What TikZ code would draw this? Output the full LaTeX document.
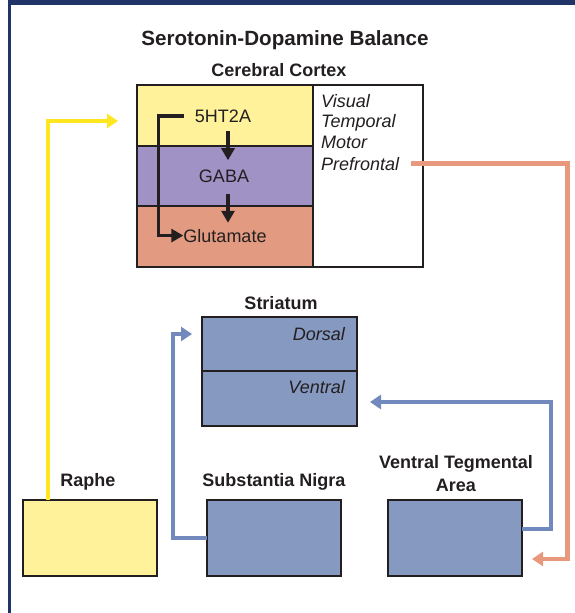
\documentclass[tikz,border=0pt]{standalone}
\usepackage{fontspec}
\setmainfont{Liberation Sans}
\usetikzlibrary{arrows.meta}
\definecolor{navy}{RGB}{33,52,104}
\definecolor{ink}{RGB}{35,31,32}
\definecolor{yfill}{RGB}{255,242,155}
\definecolor{pfill}{RGB}{160,146,196}
\definecolor{sfill}{RGB}{226,154,128}
\definecolor{bfill}{RGB}{134,153,193}
\definecolor{bline}{RGB}{114,137,190}
\definecolor{sline}{RGB}{232,152,124}
\definecolor{yline}{RGB}{255,230,30}
\begin{document}
\begin{tikzpicture}[x=1pt,y=-1pt,
  title/.style={font=\fontsize{20.6}{23}\selectfont\bfseries, text=ink, inner sep=0pt, anchor=base},
  lbl/.style={font=\fontsize{18}{21}\selectfont\bfseries, text=ink, inner sep=0pt, anchor=base},
  txt/.style={font=\fontsize{18}{21}\selectfont, text=ink, inner sep=0pt, anchor=base},
  itx/.style={font=\fontsize{18}{21}\selectfont\itshape, text=ink, inner sep=0pt},
  region/.style={draw=ink, line width=2.4pt, inner sep=0pt, outer sep=0pt, anchor=north west},
  blk/.style={draw=ink, line width=3.4pt, -{Triangle[width=13pt,length=12pt]}},
  conn/.style={line width=4.4pt, -{Triangle[width=14pt,length=11pt]}}
]
\useasboundingbox (0,0) rectangle (575,613);
% frame
\fill[navy] (8,0) rectangle (575,5);
\fill[navy] (8,0) rectangle (11,613);

% titles
\node[title] (ttl) at (285,45.5) {Serotonin-Dopamine Balance};
\node[lbl] (cc) at (279,76) {Cerebral Cortex};

% cortex
\node[region, fill=yfill, minimum width=176pt, minimum height=61pt] (yel) at (137,85) {};
\node[region, fill=pfill, minimum width=176pt, minimum height=60pt] (pur) at (137,146) {};
\node[region, fill=sfill, minimum width=176pt, minimum height=61pt] (sal) at (137,206) {};
\node[region, fill=white, minimum width=110pt, minimum height=182pt] (wht) at (313,85) {};

\node[txt] (h5) at (223,122) {5HT2A};
\node[txt] (gaba) at (224,182) {GABA};
\node[txt] (glu) at (225,242) {Glutamate};

\node[itx, anchor=base west] (vis) at (321,107) {Visual};
\node[itx, anchor=base west] (tem) at (321,127.5) {Temporal};
\node[itx, anchor=base west] (mot) at (321,148) {Motor};
\node[itx, anchor=base west] (pre) at (321,170) {Prefrontal};

\draw[blk, shorten <=9pt, shorten >=9pt] ([xshift=5pt]h5.south) -- ([xshift=5pt]h5.south |- gaba.north);
\draw[blk, shorten <=12pt, shorten >=6pt] ([xshift=4pt]gaba.south) -- ([xshift=4pt]gaba.south |- glu.north);
\draw[blk, shorten <=11pt] (h5.west) -- ++(-36,0) |- (glu.west);

% striatum
\node[lbl] (str) at (281,309) {Striatum};
\node[region, fill=bfill, minimum width=155pt, minimum height=54pt] (dor) at (202,317) {};
\node[region, fill=bfill, minimum width=155pt, minimum height=55pt] (ven) at (202,371) {};
\node[itx, anchor=base east] (dorl) at (345,340) {Dorsal};
\node[itx, anchor=base east] (venl) at (345,393) {Ventral};

% bottom boxes
\node[lbl] (rapl) at (88,486) {Raphe};
\node[region, fill=yfill, minimum width=134pt, minimum height=76pt] (raphe) at (23,500) {};
\node[lbl] (snl) at (274,486) {Substantia Nigra};
\node[region, fill=bfill, minimum width=134pt, minimum height=76pt] (sn) at (207,500) {};
\node[lbl] (vtal1) at (456,468) {Ventral Tegmental};
\node[lbl] (vtal2) at (456,491) {Area};
\node[region, fill=bfill, minimum width=134pt, minimum height=76pt] (vta) at (388,500) {};

% connector end points
\coordinate (yin) at (118,121);
\coordinate (sin) at (192,334);
\coordinate (vin) at (370,402);
\coordinate (sout) at (532,559);

\draw[conn, draw=yline, color=yline] ([xshift=25pt]raphe.north west) |- (yin);
\draw[conn, draw=bline, color=bline] (sn.west) -- ++(-34,0) |- (sin);
\draw[conn, draw=bline, color=bline] ([yshift=9pt]vta.east) -- ++(29,0) |- (vin);
\draw[conn, draw=sline, color=sline] ([xshift=12pt]pre.east) -- ++(156,0) |- (sout);
\end{tikzpicture}
\end{document}
